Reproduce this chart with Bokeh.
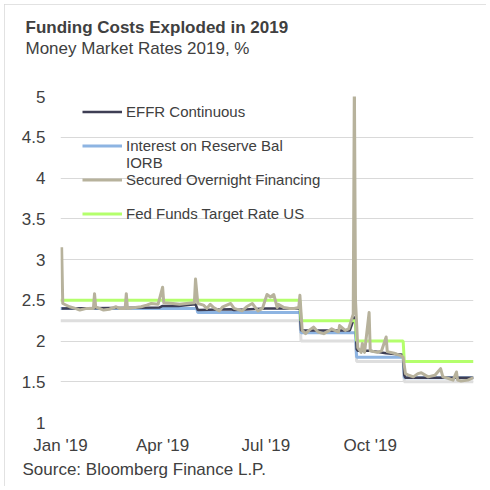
import pandas as pd
from bokeh.embed import file_html
from bokeh.models import (DatetimeTickFormatter, FixedTicker, Legend, LegendItem,
                          NumeralTickFormatter, Range1d, Title)
from bokeh.plotting import figure
from bokeh.resources import INLINE

# policy corridor: change dates and levels
fed_dates = ["2019-01-01", "2019-08-01", "2019-09-19", "2019-10-31"]
fed_upper = [2.50, 2.25, 2.00, 1.75]
fed_lower = [2.25, 2.00, 1.75, 1.50]

iorb_dates = ["2019-01-01", "2019-05-02", "2019-08-01", "2019-09-19", "2019-10-31"]
iorb_values = [2.40, 2.35, 2.10, 1.80, 1.55]

effr_dates = ["2019-01-02", "2019-03-29", "2019-04-01", "2019-04-15", "2019-04-30",
              "2019-05-02", "2019-05-31", "2019-06-03", "2019-07-01", "2019-07-31",
              "2019-08-01", "2019-09-13", "2019-09-16", "2019-09-17", "2019-09-18",
              "2019-09-19", "2019-09-20", "2019-10-01", "2019-10-15", "2019-10-30",
              "2019-10-31", "2019-11-01", "2019-12-31"]
effr_values = [2.40, 2.41, 2.43, 2.43, 2.45,
               2.38, 2.39, 2.38, 2.40, 2.40,
               2.13, 2.13, 2.25, 2.30, 2.25,
               1.90, 1.88, 1.88, 1.85, 1.83,
               1.58, 1.55, 1.55]

sofr_dates = ["2019-01-02", "2019-01-03", "2019-01-09", "2019-01-14", "2019-01-18",
              "2019-01-24", "2019-01-30", "2019-01-31", "2019-02-01", "2019-02-08",
              "2019-02-13", "2019-02-19", "2019-02-22", "2019-02-27", "2019-02-28",
              "2019-03-01", "2019-03-08", "2019-03-13", "2019-03-18", "2019-03-22",
              "2019-03-28", "2019-04-01", "2019-04-02", "2019-04-10", "2019-04-16",
              "2019-04-22", "2019-04-29", "2019-04-30", "2019-05-02", "2019-05-07",
              "2019-05-10", "2019-05-13", "2019-05-16", "2019-05-21", "2019-05-24",
              "2019-05-31", "2019-06-03", "2019-06-10", "2019-06-14", "2019-06-19",
              "2019-06-24", "2019-06-28", "2019-07-02", "2019-07-05", "2019-07-08",
              "2019-07-11", "2019-07-12", "2019-07-17", "2019-07-22", "2019-07-26",
              "2019-07-30", "2019-07-31", "2019-08-02", "2019-08-05", "2019-08-08",
              "2019-08-12", "2019-08-16", "2019-08-21", "2019-08-26", "2019-08-28",
              "2019-09-03", "2019-09-04", "2019-09-09", "2019-09-12", "2019-09-16",
              "2019-09-17", "2019-09-18", "2019-09-20", "2019-09-23", "2019-09-24",
              "2019-09-26", "2019-09-30", "2019-10-01", "2019-10-07", "2019-10-11",
              "2019-10-15", "2019-10-16", "2019-10-22", "2019-10-28", "2019-10-30",
              "2019-11-01", "2019-11-04", "2019-11-08", "2019-11-12", "2019-11-15",
              "2019-11-21", "2019-11-27", "2019-12-02", "2019-12-04", "2019-12-09",
              "2019-12-13", "2019-12-16", "2019-12-17", "2019-12-20", "2019-12-26",
              "2019-12-31"]
sofr_values = [3.15, 2.46, 2.42, 2.40, 2.38,
               2.40, 2.40, 2.58, 2.42, 2.38,
               2.39, 2.42, 2.40, 2.40, 2.58,
               2.40, 2.41, 2.42, 2.44, 2.46,
               2.45, 2.66, 2.47, 2.46, 2.45,
               2.46, 2.47, 2.76, 2.46, 2.44,
               2.40, 2.45, 2.41, 2.37, 2.42,
               2.46, 2.40, 2.37, 2.42, 2.46,
               2.37, 2.40, 2.57, 2.54, 2.57,
               2.41, 2.45, 2.41, 2.40, 2.40,
               2.41, 2.56, 2.13, 2.09, 2.13,
               2.17, 2.11, 2.09, 2.13, 2.15,
               2.11, 2.19, 2.13, 2.15, 2.33,
               5.25, 2.50, 1.92, 1.86, 1.97,
               1.86, 2.35, 1.88, 1.86, 1.88,
               2.05, 1.87, 1.85, 1.82, 1.80,
               1.60, 1.58, 1.56, 1.60, 1.61,
               1.56, 1.58, 1.66, 1.56, 1.54,
               1.52, 1.62, 1.52, 1.51, 1.52,
               1.55]

y_ticks = [1, 1.5, 2, 2.5, 3, 3.5, 4, 4.5, 5]
x_ticks = ["2019-01-01", "2019-04-01", "2019-07-01", "2019-10-01"]

FONT = "Liberation Sans"
TEXT = "#404040"


def steps(dates, values, end="2019-12-31"):
    # hold each level until the day before the next change
    d = pd.to_datetime(dates)
    xs, ys = [], []
    for i, v in enumerate(values):
        xs.append(d[i])
        ys.append(v)
        nxt = d[i + 1] - pd.Timedelta(days=1) if i + 1 < len(d) else pd.Timestamp(end)
        xs.append(nxt)
        ys.append(v)
    return xs, ys


p = figure(width=482, height=482, x_axis_type="datetime",
           x_range=Range1d(pd.Timestamp("2019-01-01"), pd.Timestamp("2019-12-31")),
           y_range=Range1d(1, 5),
           output_backend="svg", toolbar_location=None,
           min_border_left=56, min_border_right=13, min_border_top=92, min_border_bottom=64)
p.styles = {"margin-left": "4px", "margin-top": "4px",
            "outline": "1px solid #d9d9d9", "outline-offset": "-1px"}
p.outline_line_color = None
p.xgrid.grid_line_color = None
p.ygrid.grid_line_color = "#d9d9d9"
p.ygrid.grid_line_width = 1

x, y = steps(fed_dates, fed_lower)
p.line(x, y, line_color="#dedede", line_width=3)
x, y = steps(iorb_dates, iorb_values)
r_iorb = p.line(x, y, line_color="#8db4e2", line_width=3)
r_effr = p.line(pd.to_datetime(effr_dates), effr_values, line_color="#3e3e54", line_width=2.5)
x, y = steps(fed_dates, fed_upper)
r_fed = p.line(x, y, line_color="#b4ff6c", line_width=3)
r_sofr = p.line(pd.to_datetime(sofr_dates), sofr_values, line_color="#b7b29c",
                line_width=3, line_join="round")
r_blank = p.line([], [], line_alpha=0)

p.yaxis.ticker = FixedTicker(ticks=y_ticks)
p.yaxis.formatter = NumeralTickFormatter(format="0.[0]")
p.xaxis.ticker = FixedTicker(ticks=[pd.Timestamp(t).value // 10**6 for t in x_ticks])
p.xaxis.formatter = DatetimeTickFormatter(days="%b '%y", months="%b '%y", years="%b '%y")
for ax in (p.xaxis, p.yaxis):
    ax.axis_line_color = None
    ax.major_tick_line_color = None
    ax.minor_tick_line_color = None
    ax.major_tick_out = 0
    ax.major_label_text_font = FONT
    ax.major_label_text_font_size = "17px"
    ax.major_label_text_color = TEXT
p.yaxis.major_label_standoff = 15
p.xaxis.major_label_standoff = 13

legend = Legend(items=[
    LegendItem(label="EFFR Continuous", renderers=[r_effr]),
    LegendItem(label=" ", renderers=[r_blank]),
    LegendItem(label="Interest on Reserve Bal", renderers=[r_iorb]),
    LegendItem(label="IORB", renderers=[r_blank]),
    LegendItem(label="Secured Overnight Financing", renderers=[r_sofr]),
    LegendItem(label=" ", renderers=[r_blank]),
    LegendItem(label="Fed Funds Target Rate US", renderers=[r_fed]),
], location=(22, 200), label_text_font=FONT, label_text_font_size="15px",
    label_text_color=TEXT, label_height=17, glyph_height=17, glyph_width=40,
    label_standoff=4, spacing=0, padding=0, margin=0,
    border_line_color=None, background_fill_alpha=0)
p.add_layout(legend)

# titles stack outward from the frame: blank spacer, subtitle, then the main title
p.add_layout(Title(text=" ", standoff=18, text_font=FONT, text_font_size="17px"), "above")
p.add_layout(Title(text="Money Market Rates 2019, %", align="left", offset=-35,
                   standoff=0, text_font=FONT, text_font_size="17px",
                   text_font_style="normal", text_color=TEXT), "above")
p.add_layout(Title(text="Funding Costs Exploded in 2019", align="left", offset=-35,
                   standoff=0, text_font=FONT, text_font_size="17px",
                   text_font_style="bold", text_color=TEXT), "above")
p.add_layout(Title(text="Source: Bloomberg Finance L.P.", align="left", offset=-38,
                   standoff=0, text_font=FONT, text_font_size="17px",
                   text_font_style="normal", text_color=TEXT), "below")

open("out.html", "w").write(file_html(p, INLINE))
